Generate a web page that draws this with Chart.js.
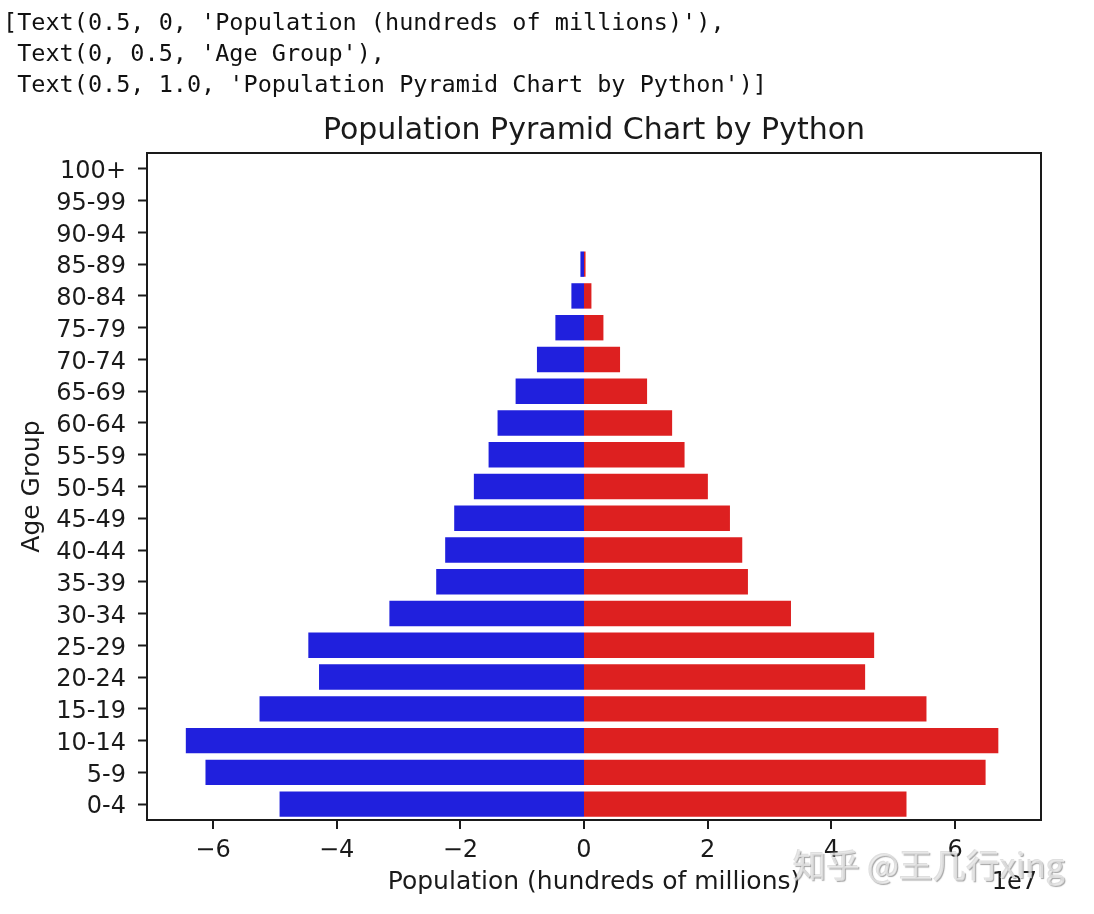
<!DOCTYPE html>
<html>
<head>
<meta charset="utf-8">
<script src="https://cdn.jsdelivr.net/npm/chart.js@4/dist/chart.umd.min.js"></script>
<style>
  html, body { margin: 0; padding: 0; background: #fff; }
  #wrap { position: relative; width: 1094px; height: 914px; overflow: hidden; }
  #c { position: absolute; left: 0; top: 0; }
  #out { position: absolute; left: 3px; top: 7px; margin: 0; font-family: "DejaVu Sans Mono", monospace; font-size: 23.5px; line-height: 31px; color: #111; white-space: pre; }
  #wm { position: absolute; left: 793px; top: 843px; font-family: "Noto Sans CJK SC", sans-serif; font-size: 33.5px; line-height: 42px; color: rgba(238,238,238,0.75); text-shadow: 1px 1px 1px rgba(90,90,90,0.55), -1px -1px 0 rgba(150,150,150,0.3); white-space: nowrap; }
</style>
</head>
<body>
<div id="wrap">
<canvas id="c" width="1094" height="914"></canvas>
<pre id="out">[Text(0.5, 0, 'Population (hundreds of millions)'),
 Text(0, 0.5, 'Age Group'),
 Text(0.5, 1.0, 'Population Pyramid Chart by Python')]</pre>
<div id="wm">知乎 @王几行xing</div>
</div>
<script>
const ageGroups = ['0-4','5-9','10-14','15-19','20-24','25-29','30-34','35-39','40-44','45-49',
  '50-54','55-59','60-64','65-69','70-74','75-79','80-84','85-89','90-94','95-99','100+'];
const maleValues = [-49230000, -61210000, -64390000, -52470000, -42850000, -44580000, -31470000,
  -23900000, -22450000, -20990000, -17810000, -15430000, -13980000, -11060000, -7610000,
  -4630000, -2040000, -580000, 0, 0, 0];
const femaleValues = [52150000, 64940000, 67000000, 55380000, 45460000, 46920000, 33470000,
  26510000, 25590000, 23600000, 20030000, 16260000, 14250000, 10200000, 5830000,
  3140000, 1200000, 250000, 0, 0, 0];
const xTickValues = [-60000000, -40000000, -20000000, 0, 20000000, 40000000, 60000000];
const chartTitle = 'Population Pyramid Chart by Python';
const xMin = -70667000, xMax = 73900000;

const textColor = '#1a1a1a';
const family = "'DejaVu Sans', sans-serif";

const framePlugin = {
  id: 'frame',
  afterDatasetsDraw(chart) {
    const {ctx, chartArea: a} = chart;
    ctx.save();
    ctx.strokeStyle = '#1a1a1a';
    ctx.lineWidth = 2;
    ctx.strokeRect(a.left, a.top, a.right - a.left, a.bottom - a.top);
    ctx.restore();
  },
  afterDraw(chart) {
    const {ctx, chartArea: a} = chart;
    ctx.save();
    ctx.fillStyle = textColor;
    ctx.font = "30px " + family;
    ctx.textAlign = 'center';
    ctx.textBaseline = 'middle';
    ctx.fillText(chartTitle, (a.left + a.right) / 2, 131);
    ctx.font = "24px " + family;
    ctx.textAlign = 'right';
    ctx.textBaseline = 'alphabetic';
    ctx.fillText('1e7', a.right - 4, 889);
    ctx.restore();
  }
};

new Chart(document.getElementById('c'), {
  type: 'bar',
  data: {
    labels: ageGroups,
    datasets: [
      { label: 'Male', data: maleValues, backgroundColor: '#2020DD', borderWidth: 0,
        barPercentage: 0.8, categoryPercentage: 1.0 },
      { label: 'Female', data: femaleValues, backgroundColor: '#DD2020', borderWidth: 0,
        barPercentage: 0.8, categoryPercentage: 1.0 }
    ]
  },
  options: {
    indexAxis: 'y',
    responsive: false,
    animation: false,
    devicePixelRatio: 1,
    layout: { padding: { left: 0, right: 53, top: 153, bottom: 0 } },
    plugins: {
      legend: { display: false },
      tooltip: { enabled: false },
      title: { display: false }
    },
    scales: {
      x: {
        type: 'linear',
        stacked: true,
        min: xMin,
        max: xMax,
        afterBuildTicks(scale) { scale.ticks = xTickValues.map(v => ({ value: v })); },
        afterFit(scale) { scale.height = 94; },
        border: { display: false },
        grid: { display: true, drawOnChartArea: false, drawTicks: true, tickLength: 9,
                lineWidth: 0, tickColor: '#1a1a1a', tickWidth: 2 },
        ticks: {
          color: textColor, padding: 7, maxRotation: 0,
          font: { family: family, size: 24 },
          callback(v) { const n = Math.round(v / 1e7); return n < 0 ? '\u2212' + Math.abs(n) : String(n); }
        },
        title: { display: true, text: 'Population (hundreds of millions)', color: textColor,
                 font: { family: family, size: 25 }, padding: { top: 0, bottom: 17 } }
      },
      y: {
        type: 'category',
        stacked: true,
        reverse: true,
        afterFit(scale) { scale.width = 147; },
        border: { display: false },
        grid: { display: true, offset: false, drawOnChartArea: false, drawTicks: true, tickLength: 9,
                tickColor: '#1a1a1a', tickWidth: 2 },
        ticks: { color: textColor, padding: 12, autoSkip: false, labelOffset: 3,
                 font: { family: family, size: 24 } },
        title: { display: true, text: 'Age Group', color: textColor,
                 font: { family: family, size: 25 }, padding: { top: 17, bottom: 0 } }
      }
    }
  },
  plugins: [framePlugin]
});
</script>
</body>
</html>
